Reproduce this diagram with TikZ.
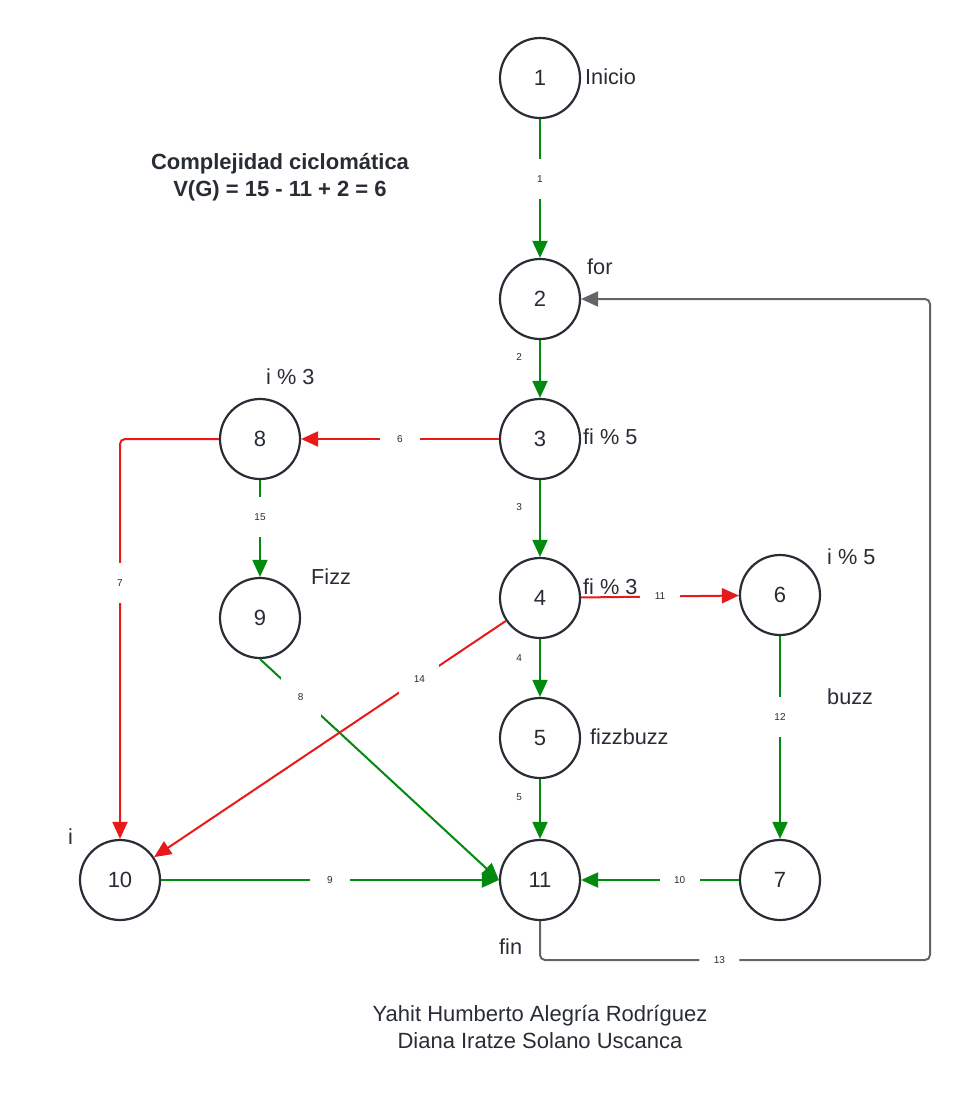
\documentclass[tikz,border=0pt]{standalone}
\usepackage{fontspec}
\setmainfont{Liberation Sans}
\usetikzlibrary{arrows.meta}
\definecolor{verde}{RGB}{0,138,14}
\definecolor{rojo}{RGB}{232,25,25}
\definecolor{gris}{RGB}{100,100,100}
\definecolor{tinta}{RGB}{40,44,52}

\begin{document}
\begin{tikzpicture}[x = 1pt, y = -1pt,
	estado/.style = {circle, draw = tinta, line width = 2.2pt, minimum size = 80pt, inner sep = 0pt, text = tinta, font = \fontsize{22}{26}\selectfont},
	etiqueta/.style = {anchor = west, inner sep = 0pt, text = tinta, font = \fontsize{21.7}{26}\selectfont},
	arista/.style = {line width = 2pt, -{Triangle[length = 17pt, width = 15pt]}},
	num/.style = {fill = white, minimum size = 40pt, inner sep = 0pt, text = tinta, font = \fontsize{10}{11}\selectfont},
	numlado/.style = {inner sep = 0pt, text = tinta, font = \fontsize{10}{11}\selectfont}]
	\useasboundingbox (0, 0) rectangle (970, 1100);
	\node[estado] (n1) at (540, 78) {1};
	\node[estado] (n2) at (540, 299) {2};
	\node[estado] (n3) at (540, 439) {3};
	\node[estado] (n4) at (540, 598) {4};
	\node[estado] (n5) at (540, 738) {5};
	\node[estado] (n6) at (780, 595) {6};
	\node[estado] (n7) at (780, 880) {7};
	\node[estado] (n8) at (260, 439) {8};
	\node[estado] (n9) at (260, 618) {9};
	\node[estado] (n10) at (120, 880) {10};
	\node[estado] (n11) at (540, 880) {11};
	\node[etiqueta] (t1) at (585, 77) {Inicio};
	\node[etiqueta] (t2) at (587, 267) {for};
	\node[etiqueta] (t3) at (583, 437) {fi \% 5};
	\node[etiqueta] (t4) at (583, 587) {fi \% 3};
	\node[etiqueta] (t5) at (590, 737) {fizzbuzz};
	\node[etiqueta] (t6) at (827, 557) {i \% 5};
	\node[etiqueta] (t7) at (827, 697) {buzz};
	\node[etiqueta] (t8) at (266, 377) {i \% 3};
	\node[etiqueta] (t9) at (311, 577) {Fizz};
	\node[etiqueta] (t10) at (68, 837) {i};
	\node[etiqueta] (t11) at (499, 947) {fin};
	\node[align = center, inner sep = 0pt, text = tinta, font = \fontsize{22}{27}\selectfont\bfseries] (titulo) at (280, 177) {Complejidad ciclomática\\V(G) = 15 - 11 + 2 = 6};
	\node[align = center, inner sep = 0pt, text = tinta, font = \fontsize{22}{27}\selectfont] (autores) at (540, 1027) {Yahit Humberto Alegría Rodríguez\\Diana Iratze Solano Uscanca};
	\draw[arista, verde] (n1) -- node[num, pos = 0.43] (e1) {1} (n2);
	\draw[arista, verde] (n2) -- node[numlado, pos = 0.3, left = 17pt] (e2) {2} (n3);
	\draw[arista, verde] (n3) -- node[numlado, pos = 0.35, left = 17pt] (e3) {3} (n4);
	\draw[arista, verde] (n4) -- node[numlado, pos = 0.32, left = 17pt] (e4) {4} (n5);
	\draw[arista, verde] (n5) -- node[numlado, pos = 0.3, left = 17pt] (e5) {5} (n11);
	\draw[arista, rojo] (n3) -- node[num] (e6) {6} (n8);
	\draw[arista, rojo, rounded corners = 5pt] (n8.west) -| node[num, pos = 0.68] (e7) {7} (n10.north);
	\draw[arista, verde] (n9.south) -- node[num, pos = 0.17] (e8) {8} (n11.west);
	\draw[arista, verde] (n10) -- node[num] (e9) {9} (n11);
	\draw[arista, verde] (n7) -- node[num, pos = 0.375] (e10) {10} (n11);
	\draw[arista, rojo] (n4) -- node[num] (e11) {11} (n6);
	\draw[arista, verde] (n6) -- node[num, pos = 0.4] (e12) {12} (n7);
	\coordinate (esquina) at (930, 960);
	\draw[arista, gris, rounded corners = 5pt] (n11.south) |- node[num, pos = 0.73] (e13) {13} (esquina) |- (n2.east);
	\draw[arista, rojo] (n4) -- node[num, pos = 0.246] (e14) {14} (n10);
	\draw[arista, verde] (n8) -- node[num, pos = 0.38] (e15) {15} (n9);
\end{tikzpicture}
\end{document}
